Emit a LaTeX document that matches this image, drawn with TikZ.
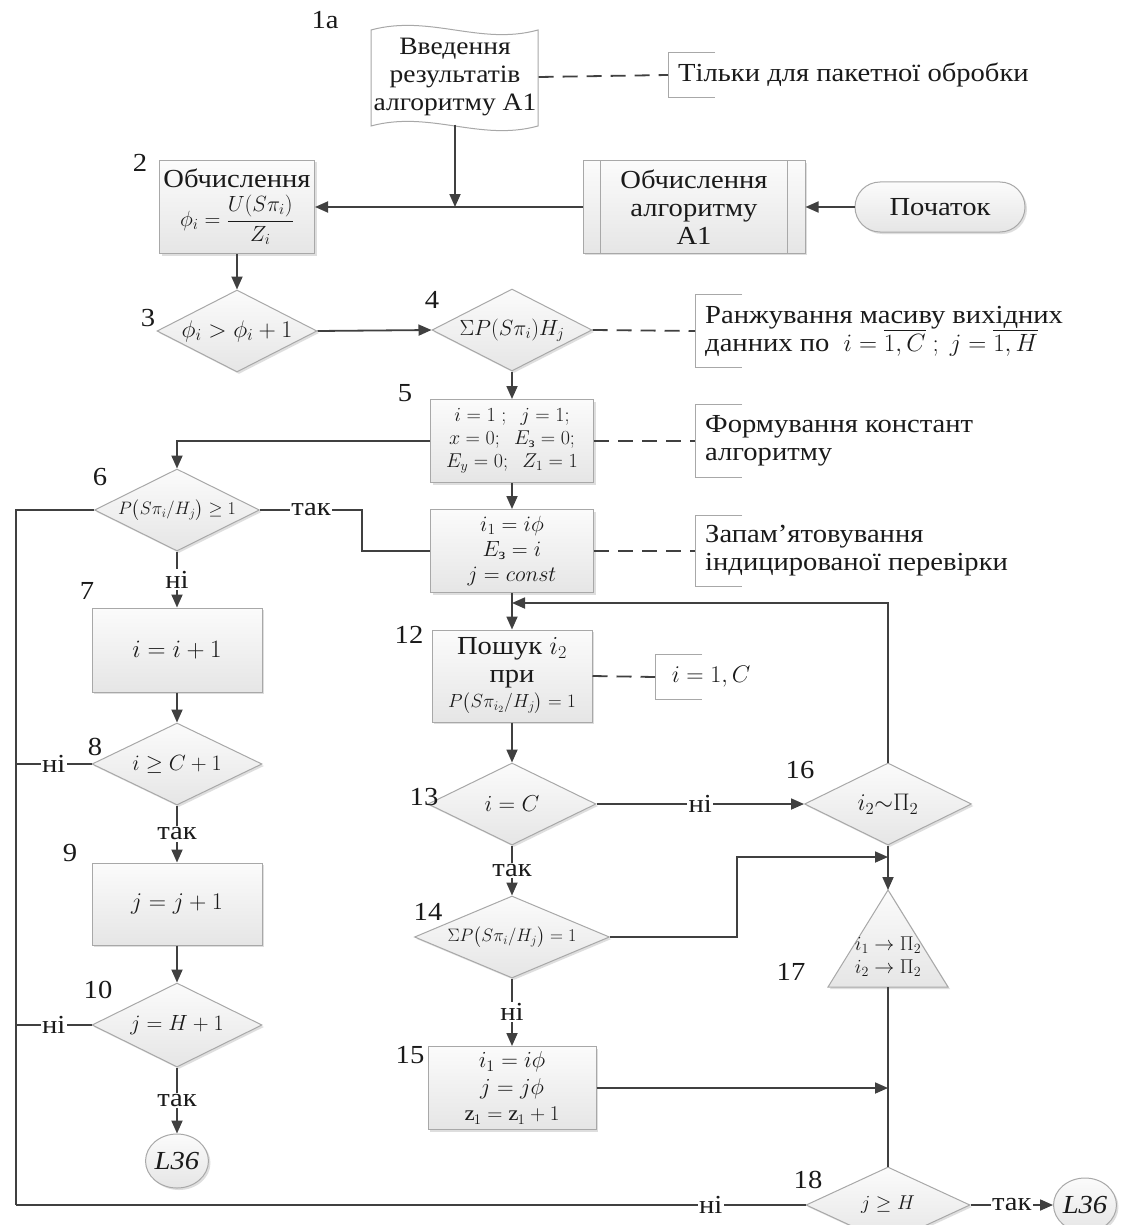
\RequirePackage{fix-cm}
\documentclass[tikz,border=0pt]{standalone}
\usepackage{amsmath}
\usepackage{fontspec}
\setmainfont{Liberation Serif}[FakeStretch=1.1]
\usetikzlibrary{arrows.meta,shapes.geometric,shadows}
\definecolor{ln}{HTML}{404040}
\definecolor{bd}{HTML}{A8A8A8}
\definecolor{tx}{HTML}{1A1A1A}
\tikzset{
  every node/.style={font=\fontsize{26}{28}\selectfont, text=tx},
  line/.style={draw=ln, line width=1.8pt},
  arr/.style={line, -{Triangle[length=13pt,width=11pt]}},
  dsh/.style={draw=ln, line width=1.8pt, dash pattern=on 15pt off 9pt},
  brk/.style={draw=bd, line width=1pt},
  shade/.style={draw=bd, line width=1pt, top color=gray!3, bottom color=gray!20,
     drop shadow={shadow xshift=2pt, shadow yshift=-2pt, fill=gray!50, opacity=.5}},
  box/.style={shade, rectangle, align=center, inner sep=0pt, minimum width=#1},
  dia/.style={shade, diamond, inner sep=0pt, minimum width=#1},
  lab/.style={fill=white, inner sep=1.5pt},
  num/.style={inner sep=0pt},
  anno/.style={anchor=west, align=left, inner xsep=10pt, inner ysep=0pt, minimum height=#1},
  m/.style={font={\fontsize{#1}{#1}\selectfont\setlength\baselineskip{1.15\baselineskip}}},
}
\newcommand\brk[1]{\draw[brk] ([xshift=47pt]#1.north west) -- (#1.north west) -- (#1.south west) -- ([xshift=47pt]#1.south west);}
\begin{document}
\begin{tikzpicture}[x=1pt,y=-1pt]
\useasboundingbox[fill=white] (0,0) rectangle (1129,1225);

% 1a tape
\draw[brk, fill=white] (371,30) .. controls (430,14) and (480,46) .. (538,30) -- (538,126)
   .. controls (480,142) and (430,110) .. (371,126) -- cycle;
\node[align=center, minimum width=167pt, minimum height=95pt, inner sep=0pt,
      font=\fontsize{25}{28}\selectfont] (t1a) at (455,77)
  {Введення\\результатів\\алгоритму A1};

\node[box=155pt, minimum height=93pt] (b2) at (237,207)
  {Обчислення\\[6pt] {\fontsize{22}{24}\selectfont$\phi_i=\dfrac{U(S\pi_i)}{Z_i}$}};
\node[box=222pt, minimum height=92pt] (a1) at (694,207) {Обчислення\\алгоритму\\A1};
\draw[brk] ([xshift=18pt]a1.north west) -- ([xshift=18pt]a1.south west);
\draw[brk] ([xshift=-18pt]a1.north east) -- ([xshift=-18pt]a1.south east);
\node[shade, rectangle, rounded corners=25pt, minimum width=170pt, minimum height=50pt] (st) at (940,207) {Початок};

\node[dia=160pt, minimum height=82pt, label={[m=24]center:$\phi_i>\phi_i+1$}] (d3) at (237,331) {};
\node[dia=160pt, minimum height=82pt, label={[m=22]center:$\Sigma P(S\pi_i)H_j$}] (d4) at (512,330) {};
\node[box=163pt, minimum height=83pt, m=20] (b5) at (512,441)
  {$i=1\ ;\ \ j=1;$\\ $x=0;\ \ E_\text{з}=0;$\\ $E_y=0;\ \ Z_1=1$};
\node[dia=165pt, minimum height=82pt, label={[m=18]center:$P\big(S\pi_i/H_j\big)\geq1$}] (d6) at (177,510) {};
\node[box=163pt, minimum height=83pt, m=22] (b11) at (512,551)
  {$i_1=i\phi$\\ $E_\text{з}=i$\\ $j=const$};
\node[box=170pt, minimum height=84pt, m=25] (b7) at (177,650) {$i=i+1$};
\node[dia=170pt, minimum height=82pt, label={[m=22]center:$i\geq C+1$}] (d8) at (177,764) {};
\node[box=170pt, minimum height=82pt, m=24] (b9) at (177,904) {$j=j+1$};
\node[dia=170pt, minimum height=84pt, label={[m=22]center:$j=H+1$}] (d10) at (177,1025) {};
\node[shade, ellipse, minimum width=60pt, minimum height=54pt, inner sep=0pt] (L1) at (177,1161) {\textit{L36}};

\node[box=160pt, minimum height=92pt] (b12) at (512,676)
  {Пошук $i_2$\\при\\[-3pt] {\fontsize{19}{21}\selectfont$P\big(S\pi_{i_2}/H_j\big)=1$}};
\node[dia=168pt, minimum height=82pt, label={[m=23]center:$i=C$}] (d13) at (512,804) {};
\node[dia=167pt, minimum height=82pt, label={[m=24]center:$i_2{\sim}\Pi_2$}] (d16) at (888,804) {};
\node[dia=195pt, minimum height=82pt, label={[m=18]center:$\Sigma P\big(S\pi_i/H_j\big)=1$}] (d14) at (512,937) {};
\node[box=168pt, minimum height=83pt, m=23] (b15) at (512,1088)
  {$i_1=i\phi$\\ $j=j\phi$\\ {\fontsize{21}{23}\selectfont$\mathrm{z}_1=\mathrm{z}_1+1$}};
\draw[shade] (828,987) -- (888,890) -- (948,987) -- cycle;
\coordinate (t17top) at (888,890);
\coordinate (t17bot) at (888,987);
\node[align=center, m=20] (t17) at (888,957) {$i_1\rightarrow\Pi_2$\\ $i_2\rightarrow\Pi_2$};
\node[dia=164pt, minimum height=76pt, label={[m=20]center:$j\geq H$}] (d18) at (888,1205) {};
\node[shade, ellipse, minimum width=56pt, minimum height=54pt, inner sep=0pt] (L2) at (1085,1205) {\textit{L36}};

% number labels
\node[num] (n1a) at (325,20) {1a};
\node[num] at (140,163) {2};
\node[num] at (148,318) {3};
\node[num] at (432,300) {4};
\node[num] at (405,393) {5};
\node[num] at (100,477) {6};
\node[num] at (87,591) {7};
\node[num] at (95,747) {8};
\node[num] at (70,853) {9};
\node[num] at (98,990) {10};
\node[num] at (409,635) {12};
\node[num] at (424,797) {13};
\node[num] at (428,912) {14};
\node[num] at (410,1055) {15};
\node[num] at (800,770) {16};
\node[num] at (791,972) {17};
\node[num] at (808,1180) {18};

% annotations
\node[anno=45pt] (an1) at (668,75) {Тільки для пакетної обробки};
\node[anno=72pt] (an2) at (695,331) {Ранжування масиву вихідних\\данних по \ {\fontsize{25}{27}\selectfont$i=\overline{1,C}\ ;\ j=\overline{1,H}$}};
\node[anno=72pt] (an3) at (695,441) {Формування констант\\алгоритму};
\node[anno=71pt] (an4) at (695,551) {Запам’ятовування\\індицированої перевірки};
\node[anno=45pt, m=24] (an5) at (655,677) {\ $i=1,C$};
\brk{an1}\brk{an2}\brk{an3}\brk{an4}\brk{an5}
\draw[dsh] (t1a.east) -- (an1.west);
\draw[dsh] (d4.east) -- (an2.west);
\draw[dsh] (b5.east) -- (an3.west);
\draw[dsh] (b11.east) -- (an4.west);
\draw[dsh] (b12.east) -- (an5.west);

% connectors
\draw[arr] (a1.west) -- (b2.east);
\draw[arr] (t1a.south) -- (t1a.south |- b2.east);
\draw[arr] (st.west) -- (a1.east);
\draw[arr] (b2.south) -- (d3.north);
\draw[arr] (d3.east) -- (d4.west);
\draw[arr] (d4.south) -- (b5.north);
\draw[arr] (b5.west) -| (d6.north);
\draw[arr] (b5.south) -- (b11.north);
\draw[line] (d6.east) -- node[lab]{так} ++(102,0) |- (b11.west);
\draw[arr] (d6.south) -- node[lab]{ні} (b7.north);
\draw[arr] (b7.south) -- (d8.north);
\draw[arr] (d8.south) -- node[lab]{так} (b9.north);
\draw[arr] (b9.south) -- (d10.north);
\draw[arr] (d10.south) -- node[lab]{так} (L1.north);
\coordinate (lt) at (16,510);
\coordinate (lb) at (16,1205);
\draw[line] (d6.west) -- (lt) -- (lb);
\draw[line] (d8.west) -- node[lab]{ні} (d8.west -| lt);
\draw[line] (d10.west) -- node[lab]{ні} (d10.west -| lt);
\draw[line] (d18.west) -- node[lab, pos=0.12]{ні} (lb);
\coordinate (jn) at (512,603);
\draw[arr] (b11.south) -- (b12.north);
\draw[arr] (d16.north) |- (jn);
\draw[arr] (b12.south) -- (d13.north);
\draw[arr] (d13.east) -- node[lab]{ні} (d16.west);
\draw[arr] (d13.south) -- node[lab]{так} (d14.north);
\draw[arr] (d16.south) -- (t17top);
\coordinate (j2) at (888,857);
\draw[arr] (d14.east) -- ++(127,0) |- (j2);
\draw[arr] (d14.south) -- node[lab]{ні} (b15.north);
\coordinate (j3) at (888,1088);
\draw[arr] (b15.east) -- (j3);
\draw[line] (t17bot) -- (d18.north);
\draw[arr] (d18.east) -- node[lab]{так} (L2.west);
\end{tikzpicture}
\end{document}
